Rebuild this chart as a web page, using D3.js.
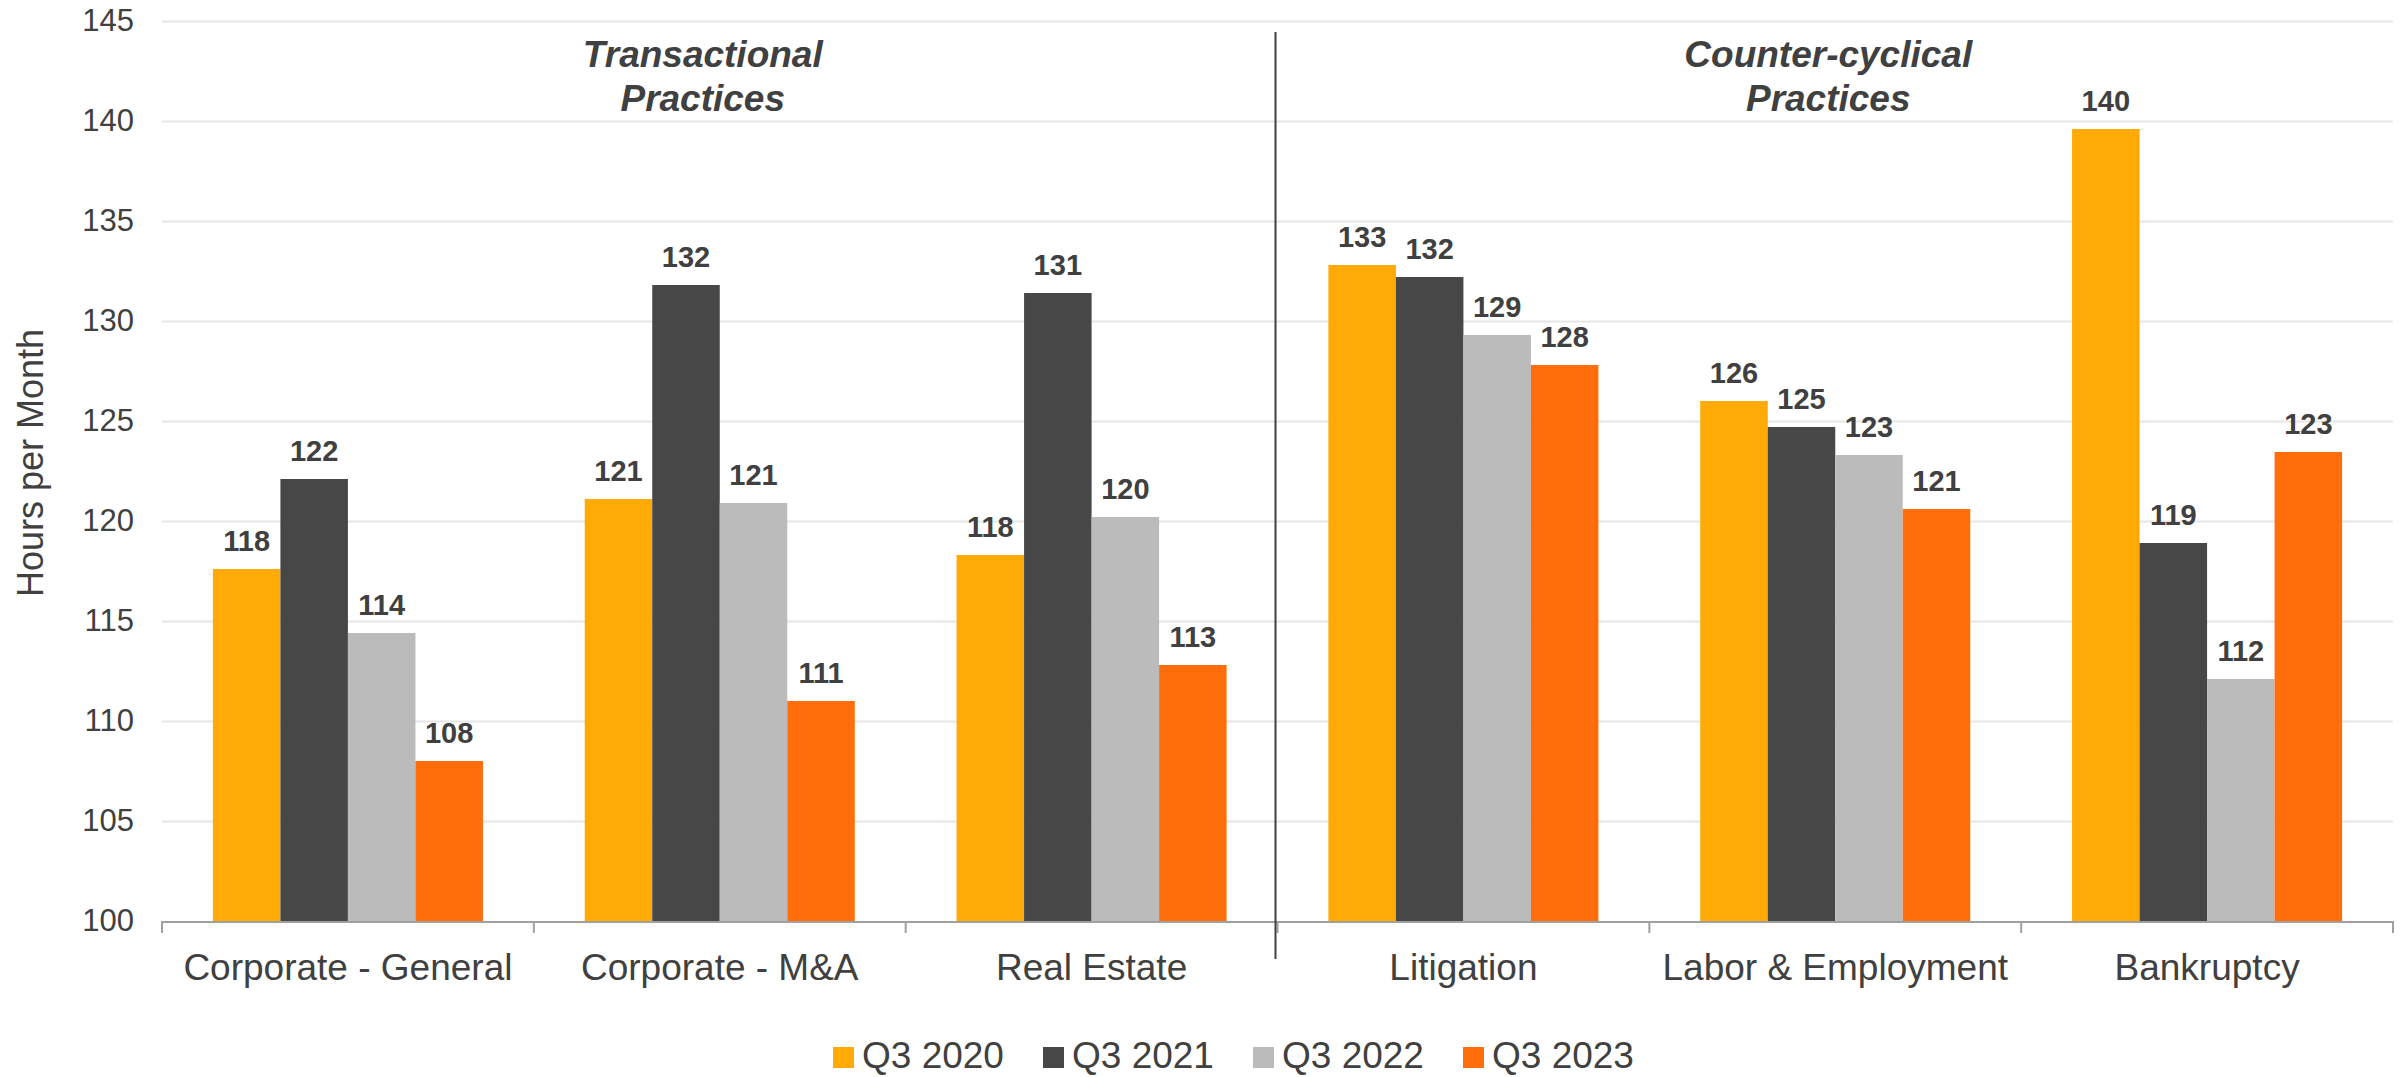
<!DOCTYPE html>
<html>
<head>
<meta charset="utf-8">
<script src="https://cdn.jsdelivr.net/npm/d3@7"></script>
<style>
  html, body { margin: 0; padding: 0; background: #ffffff; }
  svg { display: block; font-family: "Liberation Sans", Arial, sans-serif; }
</style>
</head>
<body>
<svg id="chart" width="2408" height="1077"></svg>
<script>
// Average billable hours per month by practice area
const categories = ["Corporate - General", "Corporate - M&A", "Real Estate", "Litigation", "Labor & Employment", "Bankruptcy"];
const seriesNames = ["Q3 2020", "Q3 2021", "Q3 2022", "Q3 2023"];
const q3_2020 = [117.6, 121.1, 118.3, 132.8, 126.0, 139.6];
const q3_2021 = [122.1, 131.8, 131.4, 132.2, 124.7, 118.9];
const q3_2022 = [114.4, 120.9, 120.2, 129.3, 123.3, 112.1];
const q3_2023 = [108.0, 111.0, 112.8, 127.8, 120.6, 123.45];
const yTicks = [100, 105, 110, 115, 120, 125, 130, 135, 140, 145];
const practiceGroups = [
  { lines: ["Transactional", "Practices"], from: 0, to: 2 },
  { lines: ["Counter-cyclical", "Practices"], from: 3, to: 5 }
];
const yTitle = "Hours per Month";

const seriesValues = [q3_2020, q3_2021, q3_2022, q3_2023];
const colors = ["#FFAA05", "#474747", "#BBBBBB", "#FF6E0A"];
const textColor = "#404040";

const svg = d3.select("#chart");
const plot = { left: 162, right: 2393, top: 21, bottom: 921 };

const x0 = d3.scaleBand().domain(categories).range([plot.left, plot.right]).padding(0);
const x1 = d3.scaleBand().domain(seriesNames).range([0, x0.bandwidth()])
  .paddingInner(0).paddingOuter(0.754);
const y = d3.scaleLinear().domain([100, 145]).range([plot.bottom, plot.top]);

// Horizontal gridlines
svg.append("g")
  .attr("transform", `translate(${plot.left},0)`)
  .call(d3.axisLeft(y).tickValues(yTicks.slice(1)).tickSize(-(plot.right - plot.left)).tickFormat(""))
  .call(g => g.select(".domain").remove())
  .call(g => g.selectAll("line").attr("stroke", "#E6E6E6").attr("stroke-width", 2));

// Y tick labels
svg.append("g")
  .attr("transform", `translate(${plot.left - 28},0)`)
  .call(d3.axisLeft(y).tickValues(yTicks).tickSize(0).tickPadding(0).tickFormat(d3.format("d")))
  .call(g => g.select(".domain").remove())
  .call(g => g.selectAll("text")
    .attr("fill", textColor)
    .attr("font-size", 31)
    .attr("font-family", "Liberation Sans, Arial, sans-serif"));

// Y axis title
svg.append("text")
  .attr("transform", `translate(43,463) rotate(-90)`)
  .attr("text-anchor", "middle")
  .attr("fill", textColor)
  .attr("font-size", 36)
  .text(yTitle);

// Bars
const rows = categories.map((c, i) => ({
  category: c,
  values: seriesNames.map((s, k) => ({ series: s, k, value: seriesValues[k][i] }))
}));

const groups = svg.append("g").selectAll("g")
  .data(rows)
  .join("g")
  .attr("transform", d => `translate(${x0(d.category)},0)`);

groups.selectAll("rect")
  .data(d => d.values)
  .join("rect")
  .attr("x", d => x1(d.series))
  .attr("y", d => y(d.value))
  .attr("width", x1.bandwidth())
  .attr("height", d => y(100) - y(d.value))
  .attr("fill", d => colors[d.k]);

// Value labels
groups.selectAll("text.val")
  .data(d => d.values)
  .join("text")
  .attr("class", "val")
  .attr("x", d => x1(d.series) + x1.bandwidth() / 2)
  .attr("y", d => y(d.value) - 18)
  .attr("text-anchor", "middle")
  .attr("font-size", 29)
  .attr("font-weight", "bold")
  .attr("fill", textColor)
  .text(d => d3.format(".0f")(d.value));

// Bottom axis line and category boundary ticks
svg.append("line")
  .attr("x1", plot.left).attr("x2", plot.right)
  .attr("y1", y(100) + 1).attr("y2", y(100) + 1)
  .attr("stroke", "#A0A0A0").attr("stroke-width", 2);

const boundaries = categories.map(c => x0(c)).concat([x0(categories[categories.length - 1]) + x0.bandwidth()]);
svg.append("g").selectAll("line")
  .data(boundaries)
  .join("line")
  .attr("x1", d => d).attr("x2", d => d)
  .attr("y1", y(100)).attr("y2", y(100) + 12)
  .attr("stroke", "#A0A0A0").attr("stroke-width", 2);

// Category labels
svg.append("g")
  .attr("transform", `translate(0,${y(100)})`)
  .call(d3.axisBottom(x0).tickSize(0).tickPadding(0))
  .call(g => g.select(".domain").remove())
  .call(g => g.selectAll("text")
    .attr("dy", null)
    .attr("y", 59)
    .attr("fill", textColor)
    .attr("font-size", 37)
    .attr("font-family", "Liberation Sans, Arial, sans-serif"));

// Divider between practice groups
const dividerX = x0(categories[3]) - 2;
svg.append("line")
  .attr("x1", dividerX).attr("x2", dividerX)
  .attr("y1", 32).attr("y2", 959)
  .attr("stroke", "#404040").attr("stroke-width", 2);

// Practice group titles
const titleOffsets = [-17, -7];
practiceGroups.forEach((grp, gi) => {
  const mid = (x0(categories[grp.from]) + x0(categories[grp.to]) + x0.bandwidth()) / 2 + titleOffsets[gi];
  const t = svg.append("text")
    .attr("text-anchor", "middle")
    .attr("font-size", 37)
    .attr("font-weight", "bold")
    .attr("font-style", "italic")
    .attr("fill", textColor);
  grp.lines.forEach((ln, li) => {
    t.append("tspan").attr("x", mid).attr("y", 67 + li * 44).text(ln);
  });
});

// Legend
const legend = svg.append("g").attr("transform", "translate(833,0)");
const items = legend.selectAll("g")
  .data(seriesNames)
  .join("g")
  .attr("transform", (d, i) => `translate(${i * 210},0)`);
items.append("rect")
  .attr("x", 0).attr("y", 1047)
  .attr("width", 21).attr("height", 21)
  .attr("fill", (d, i) => colors[i]);
items.append("text")
  .attr("x", 29).attr("y", 1068)
  .attr("font-size", 37)
  .attr("fill", textColor)
  .text(d => d);
</script>
</body>
</html>
